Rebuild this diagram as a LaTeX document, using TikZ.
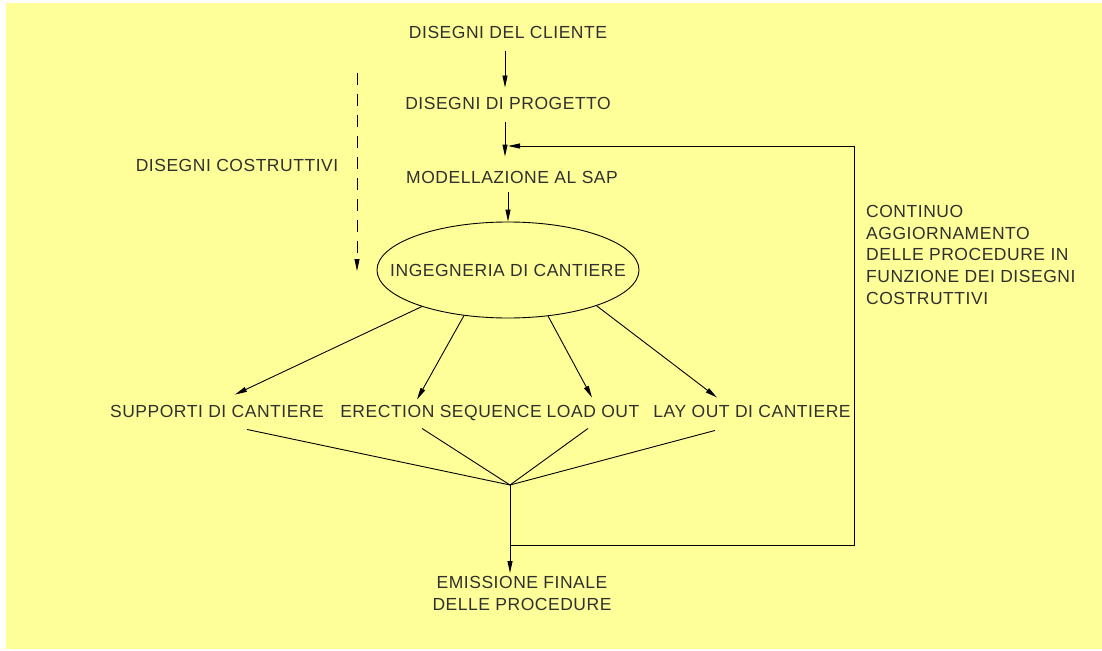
\documentclass[tikz,border=0pt]{standalone}
\usepackage{fontspec}
\setmainfont[LetterSpace=3]{Liberation Sans}
\usetikzlibrary{arrows.meta,shapes.geometric}
\definecolor{bg}{HTML}{FFFF99}
\definecolor{ink}{HTML}{303030}
\begin{document}
\begin{tikzpicture}[x=1pt,y=-1pt,
  lbl/.style={inner sep=0pt, text height=12.5pt, text depth=0pt, font=\fontsize{17.5}{21.7}\selectfont, text=ink},
  mlbl/.style={inner sep=0pt, font=\fontsize{17.5}{21.7}\selectfont, text=ink},
  con/.style={draw=black, line width=0.9pt},
  arr/.style={con, -{Triangle[length=12pt,width=5pt]}},
  ]
\useasboundingbox (0,0) rectangle (1102,650);
\fill[bg] (6,3) rectangle (1102,649);

% nodes
\node[lbl] (cliente) at (508,32) {DISEGNI DEL CLIENTE};
\node[lbl] (progetto) at (508,103) {DISEGNI DI PROGETTO};
\node[lbl] (sap) at (512,177) {MODELLAZIONE AL SAP};
\node[lbl] (costr) at (237,165) {DISEGNI COSTRUTTIVI};
\node[ellipse, draw=black, line width=0.9pt, minimum width=262pt, minimum height=96pt, inner sep=0pt] (ingshape) at (508,270) {};
\node[lbl] (ing) at (508,270) {INGEGNERIA DI CANTIERE};
\node[lbl] (sup) at (217,411) {SUPPORTI DI CANTIERE};
\node[lbl] (ere) at (441,411) {ERECTION SEQUENCE};
\node[lbl] (lo) at (593,411) {LOAD OUT};
\node[lbl] (lay) at (752,411) {LAY OUT DI CANTIERE};
\node[mlbl, align=center, anchor=north] (emi) at (522,576) {EMISSIONE FINALE\\DELLE PROCEDURE};
\node[mlbl, align=left, anchor=north west] (note) at (866,205) {CONTINUO\\AGGIORNAMENTO\\DELLE PROCEDURE IN\\FUNZIONE DEI DISEGNI\\COSTRUTTIVI};

% coordinates
\coordinate (ax) at (505,0);
\coordinate (bx) at (508,0);
\coordinate (m) at (510,485);
\coordinate (fb) at (510,545);
\coordinate (fbr) at (854,545);
\coordinate (fbt) at (854,146);
\coordinate (fbe) at (508,146);
\coordinate (d1) at (357,73);
\coordinate (d2) at (357,271);

% main chain
\draw[arr, shorten <=12.5pt, shorten >=9pt] (cliente.south -| ax) -- (progetto.north -| ax);
\draw[arr, shorten <=13pt, shorten >=14pt] (progetto.south -| ax) -- (sap.north -| ax);
\draw[arr, shorten <=9pt] (sap.south -| bx) -- (ingshape.north);

% dashed
\draw[arr, dash pattern=on 12pt off 9pt] (d1) -- (d2);

% branches
\draw[arr] (ingshape.203) -- ([xshift=18pt,yshift=10pt]sup.north);
\draw[arr] (ingshape.226) -- ([xshift=-24pt,yshift=5pt]ere.north);
\draw[arr] (ingshape.311) -- ([xshift=-1pt,yshift=7pt]lo.north);
\draw[arr] (ingshape.338) -- ([xshift=-35pt,yshift=7pt]lay.north);

% converge
\draw[con] ([xshift=30pt,yshift=-12pt]sup.south) -- (m);
\draw[con] ([xshift=-19pt,yshift=-11pt]ere.south) -- (m);
\draw[con] ([xshift=-5pt,yshift=-11pt]lo.south) -- (m);
\draw[con] ([xshift=-37pt,yshift=-13pt]lay.south) -- (m);
\draw[arr, shorten >=3pt] (m) -- (emi.north -| m);

% feedback
\draw[arr] (fb) -- (fbr) -- (fbt) -- (fbe);
\end{tikzpicture}
\end{document}
